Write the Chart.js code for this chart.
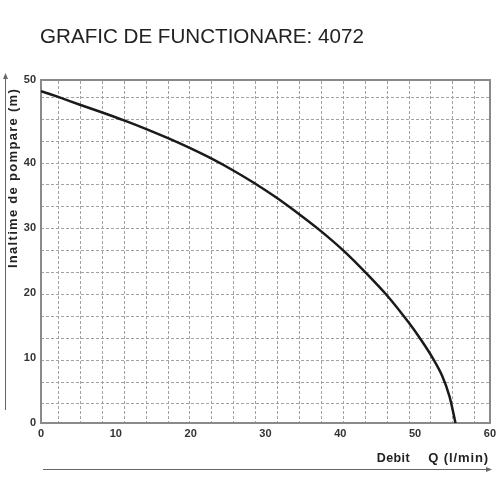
<!DOCTYPE html>
<html>
<head>
<meta charset="utf-8">
<script src="https://cdn.jsdelivr.net/npm/chart.js@4/dist/chart.umd.min.js"></script>
<style>
  body { margin: 0; background: #fff; }
  #wrap { width: 500px; height: 500px; }
</style>
</head>
<body>
<div id="wrap"><canvas id="chart" width="500" height="500"></canvas></div>
<script>
const flowValues = [0, 2.3, 5.2, 8.1, 11.1, 14, 16.9, 19.8, 23, 25.7, 28.6, 31.5, 34.6, 37.5, 40.5, 43.4, 46.4, 49.1, 50.9, 52.4, 53.6, 54.6, 55.4]
const headValues = [51.0, 50.1, 48.9, 47.75, 46.5, 45.2, 43.8, 42.3, 40.5, 38.8, 36.8, 34.6, 32.0, 29.4, 26.4, 23.1, 19.4, 15.5, 12.6, 9.9, 7.3, 4.1, 0]
const xTickValues = [0, 10, 20, 30, 40, 50, 60]
const yTickLabels = ['0', '10', '20', '30', '40', '50']

const chartTitle = 'GRAFIC DE FUNCTIONARE: 4072'
const yTitle = 'Inaltime de pompare (m)'
const xTitleLeft = 'Debit'
const xTitleRight = 'Q (l/min)'

const fontFamily = '"Liberation Sans", Arial, sans-serif'
const frameColor = '#8a8a8a'
const paperGrid = {color: '#a3a3a3', lineWidth: 1, drawTicks: false}

const extraText = {
    id: 'extraText',
    afterDraw(chart) {
        const ctx = chart.ctx
        ctx.save()
        ctx.fillStyle = '#222'
        ctx.font = '20.6px ' + fontFamily
        ctx.textAlign = 'left'
        ctx.textBaseline = 'alphabetic'
        ctx.fillText(chartTitle, 40, 43)

        ctx.fillStyle = '#222'
        ctx.textAlign = 'right'
        ctx.font = 'bold 12.5px ' + fontFamily
        ctx.letterSpacing = '0.4px'
        ctx.fillText(xTitleLeft, 410, 462)
        ctx.font = 'bold 13px ' + fontFamily
        ctx.letterSpacing = '0.9px'
        ctx.fillText(xTitleRight, 489, 462)

        ctx.font = 'bold 13px ' + fontFamily
        ctx.letterSpacing = '1.3px'
        ctx.translate(17, 178)
        ctx.rotate(-Math.PI / 2)
        ctx.textAlign = 'center'
        ctx.fillText(yTitle, 0, 0)
        ctx.restore()

        ctx.save()
        ctx.strokeStyle = '#666'
        ctx.fillStyle = '#666'
        ctx.lineWidth = 1
        ctx.beginPath()
        ctx.moveTo(5.5, 410)
        ctx.lineTo(5.5, 76)
        ctx.moveTo(43, 469.5)
        ctx.lineTo(489, 469.5)
        ctx.stroke()
        ctx.beginPath()
        ctx.moveTo(5.5, 73)
        ctx.lineTo(3, 79)
        ctx.lineTo(8, 79)
        ctx.fill()
        ctx.beginPath()
        ctx.moveTo(492, 469.5)
        ctx.lineTo(486, 467)
        ctx.lineTo(486, 472)
        ctx.fill()
        ctx.restore()
    }
}

new Chart(document.getElementById('chart'), {
    type: 'line',
    data: {
        datasets: [{
            data: flowValues.map((q, i) => ({x: q, y: headValues[i]})),
            borderColor: '#1a1a1a',
            borderWidth: 2.5,
            pointRadius: 0,
            tension: 0.3,
            fill: false
        }]
    },
    options: {
        responsive: false,
        animation: false,
        layout: {padding: {top: 80, right: 10, bottom: 0, left: 0}},
        plugins: {legend: {display: false}, tooltip: {enabled: false}},
        scales: {
            x: {
                type: 'linear',
                position: 'bottom',
                min: 0,
                max: 60,
                afterBuildTicks: s => { s.ticks = xTickValues.map(v => ({value: v})) },
                afterFit: s => { s.height = 77 },
                grid: {display: false, drawTicks: false},
                border: {display: true, color: frameColor, width: 2},
                ticks: {color: '#333', padding: 4, font: {family: fontFamily, size: 11, weight: 'bold'}, maxRotation: 0}
            },
            y: {
                type: 'linear',
                position: 'left',
                min: 0,
                max: 52.7,
                afterBuildTicks: s => { s.ticks = [0, 10, 20, 30, 40, s.max].map(v => ({value: v})) },
                afterFit: s => { s.width = 41 },
                grid: {display: false, drawTicks: false},
                border: {display: true, color: frameColor, width: 2},
                ticks: {
                    color: '#333',
                    padding: 5,
                    font: {family: fontFamily, size: 11, weight: 'bold'},
                    callback: (v, i) => yTickLabels[i]
                }
            },
            gx: {
                type: 'linear',
                position: 'top',
                min: -0.8,
                max: 19.69,
                afterFit: s => { s.height = 0 },
                grid: paperGrid,
                border: {display: true, color: frameColor, width: 2, dash: [3, 2]},
                ticks: {display: false, stepSize: 1, includeBounds: false}
            },
            gy: {
                type: 'linear',
                position: 'right',
                min: -0.87,
                max: 14.79,
                afterFit: s => { s.width = 0 },
                grid: paperGrid,
                border: {display: true, color: frameColor, width: 2, dash: [3, 2]},
                ticks: {display: false, stepSize: 1, includeBounds: false}
            }
        }
    },
    plugins: [extraText]
})
</script>
</body>
</html>
